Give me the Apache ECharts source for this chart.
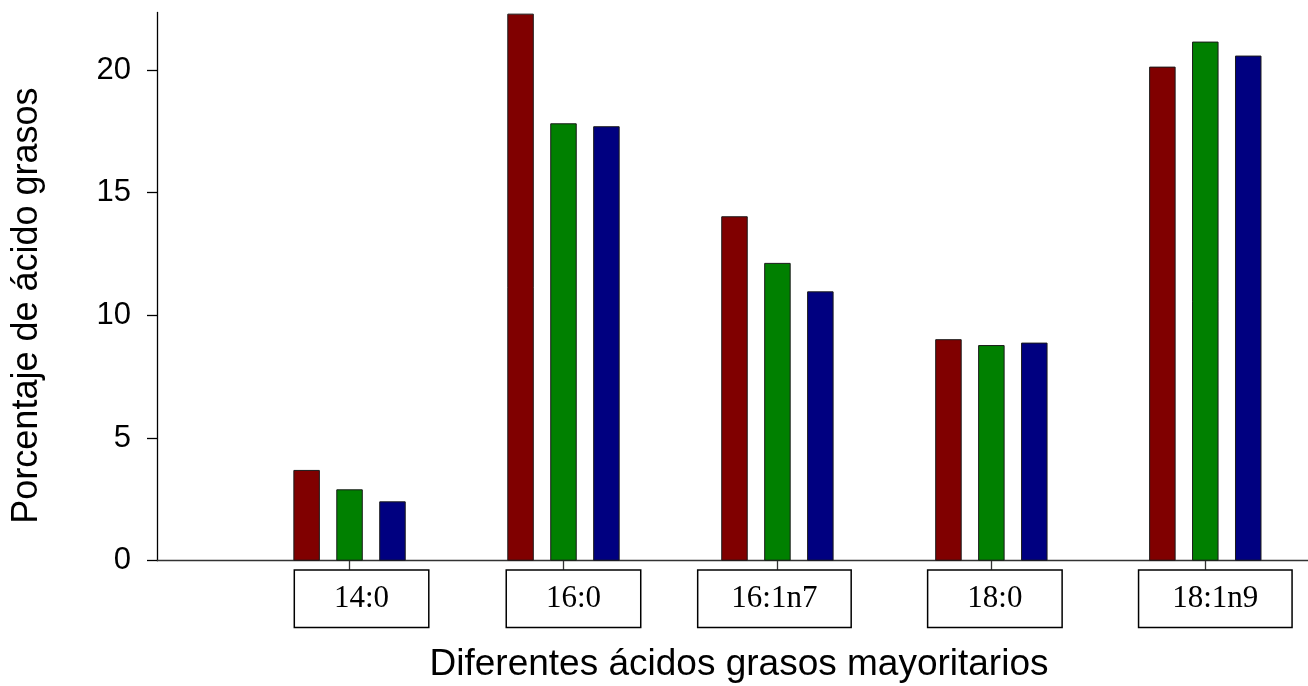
<!DOCTYPE html>
<html>
<head>
<meta charset="utf-8">
<script src="https://cdn.jsdelivr.net/npm/echarts@6/dist/echarts.min.js"></script>
<style>
html,body{margin:0;padding:0;background:#fff;}
#chart{width:1308px;height:686px;}
</style>
</head>
<body>
<div id="chart"></div>
<script>
const categories = ['14:0', '16:0', '16:1n7', '18:0', '18:1n9'];
const seriesRed = [3.70, 22.3, 14.04, 9.03, 20.14];
const seriesGreen = [2.91, 17.83, 12.14, 8.79, 21.16];
const seriesBlue = [2.42, 17.71, 10.98, 8.89, 20.59];
const yTicks = [0, 5, 10, 15, 20];

// horizontal shift (px) of each category's label box relative to its tick (layout only)
const labelBoxShift = [12, 10, -3, 3.5, 10];

const toPoints = vals => vals.map((v, i) => [i + 1, v]);
const catPositions = categories.map((c, i) => i + 1);

const chart = echarts.init(document.getElementById('chart'), null, {renderer: 'canvas'});

const barStyle = color => ({
  color: color,
  borderColor: '#1a1a1a',
  borderWidth: 1
});

const boxStyle = w => ({
  width: w,
  height: 56,
  lineHeight: 56,
  align: 'center',
  verticalAlign: 'middle',
  fontSize: 31,
  fontFamily: 'Liberation Serif',
  color: '#000',
  borderColor: '#000',
  borderWidth: 1.5,
  backgroundColor: '#fff'
});

const rich = {n: boxStyle(133), w: boxStyle(152)};
labelBoxShift.forEach((s, i) => {
  rich['p' + i] = {width: Math.abs(s) * 2, height: 56, lineHeight: 56};
});

chart.setOption({
  animation: false,
  backgroundColor: '#fff',
  grid: {left: 157, right: 0, top: 12.4, bottom: 125.3, containLabel: false, outerBoundsMode: 'none'},
  xAxis: {
    type: 'value',
    min: 0.1,
    max: 5.48,
    splitLine: {show: false},
    axisLine: {show: true, onZero: false, lineStyle: {color: '#333', width: 1.3}},
    axisTick: {show: true, customValues: catPositions, length: 9, lineStyle: {color: '#333', width: 1.3}},
    axisLabel: {
      show: true,
      customValues: catPositions,
      margin: 10,
      formatter: v => {
        const i = Math.round(v) - 1;
        const c = categories[i];
        const box = '{' + (c.length > 4 ? 'w' : 'n') + '|' + c + '}';
        const pad = '{p' + i + '| }';
        return labelBoxShift[i] >= 0 ? pad + box : box + pad;
      },
      rich: rich
    },
    name: 'Diferentes ácidos grasos mayoritarios',
    nameLocation: 'middle',
    nameGap: 86,
    nameTextStyle: {fontSize: 37, fontFamily: 'Liberation Sans', color: '#000', padding: [0, 0, 0, 13]}
  },
  yAxis: {
    type: 'value',
    min: 0,
    max: 22.35,
    interval: 5,
    splitLine: {show: false},
    axisLine: {show: true, lineStyle: {color: '#000', width: 1.3}},
    axisTick: {show: true, customValues: yTicks, length: 10, lineStyle: {color: '#000', width: 1.3}},
    axisLabel: {customValues: yTicks, margin: 26, fontSize: 31, fontFamily: 'Liberation Sans', color: '#000'},
    name: 'Porcentaje de ácido grasos',
    nameLocation: 'middle',
    nameGap: 112,
    nameTextStyle: {fontSize: 36, fontFamily: 'Liberation Sans', color: '#000', padding: [0, 38, 0, 0]}
  },
  series: [
    {name: 'Rojo', type: 'bar', data: toPoints(seriesRed), barWidth: 26.5, barGap: '62%', itemStyle: barStyle('#800000')},
    {name: 'Verde', type: 'bar', data: toPoints(seriesGreen), barWidth: 26.5, barGap: '62%', itemStyle: barStyle('#008000')},
    {name: 'Azul', type: 'bar', data: toPoints(seriesBlue), barWidth: 26.5, barGap: '62%', itemStyle: barStyle('#000080')}
  ]
});
</script>
</body>
</html>
